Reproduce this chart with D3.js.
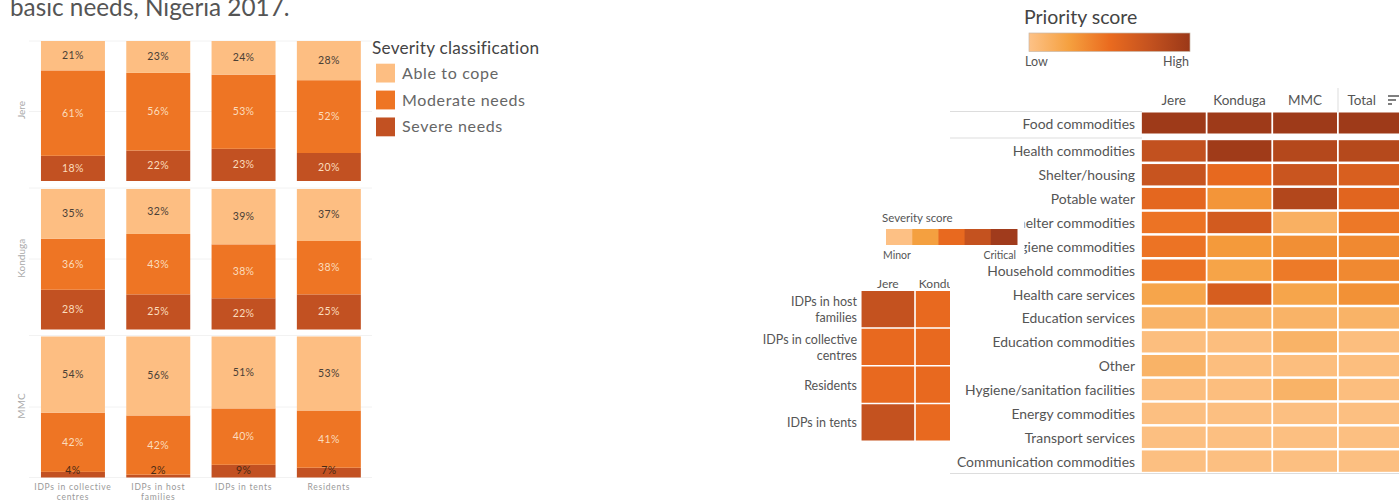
<!DOCTYPE html>
<html><head><meta charset="utf-8">
<script src="https://cdn.jsdelivr.net/npm/d3@7/dist/d3.min.js"></script>
<style>html,body{margin:0;padding:0;background:#fff;overflow:hidden}svg{display:block}text{font-family:"Lato",sans-serif}</style>
</head><body><svg id="c" width="1399" height="500"></svg>
<script>
const titleText = "basic needs, Nigeria 2017.";
const locations = ["Jere","Konduga","MMC"];
const groups = ["IDPs in collective centres","IDPs in host families","IDPs in tents","Residents"];
const classes = ["Severe needs","Moderate needs","Able to cope"];
const legendClasses = ["Able to cope","Moderate needs","Severe needs"];
const classColors = ["#c25122","#ee7524","#fdbe82"];
const severeValues = [[18,22,23,20],[28,25,22,25],[4,2,9,7]];
const moderateValues = [[61,56,53,52],[36,43,38,38],[42,42,40,41]];
const copeValues = [[21,23,24,28],[35,32,39,37],[54,56,51,53]];

const priorityColumns = ["Jere","Konduga","MMC","Total"];
const priorityTop = ["Food commodities"];
const priorityRows = ["Health commodities","Shelter/housing","Potable water","Other shelter commodities","Hygiene commodities","Household commodities","Health care services","Education services","Education commodities","Other","Hygiene/sanitation facilities","Energy commodities","Transport services","Communication commodities"];
const priorityTopScores = [[0.98,0.98,0.98,0.98]];
const priorityScores = [
 [0.76,0.97,0.85,0.84],[0.73,0.52,0.72,0.62],[0.54,0.30,0.86,0.56],[0.46,0.66,0.13,0.44],
 [0.46,0.28,0.33,0.36],[0.46,0.22,0.43,0.36],[0.21,0.63,0.21,0.32],[0.11,0.11,0.11,0.11],
 [0.03,0.03,0.11,0.03],[0.11,0.03,0.03,0.03],[0.03,0.03,0.11,0.03],[0.02,0.02,0.02,0.02],
 [0.02,0.02,0.02,0.02],[0.02,0.02,0.02,0.02]];
const priorityStops = [0,0.25,0.5,0.75,1];
const priorityStopColors = ["#fdc287","#f5a03f","#ea6b1f","#c4521f","#9b3818"];

const severityColumns = ["Jere","Konduga"];
const severityGroups = ["IDPs in host families","IDPs in collective centres","Residents","IDPs in tents"];
const severityGroupLines = [["IDPs in host","families"],["IDPs in collective","centres"],["Residents"],["IDPs in tents"]];
const severityLevels = [[3,2],[2,2],[2,2],[3,2]];
const severityColors = ["#fdc084","#f4a040","#e8691f","#c4521f","#a03b1c"];

const svg = d3.select("#c");
const T = (s,x,y,size,fill,anchor="start",g=svg)=>g.append("text").attr("x",x).attr("y",y).attr("font-size",size).attr("fill",fill).attr("text-anchor",anchor).text(s);

/* ---------- left: stacked bars ---------- */
T(titleText,10,16,24.3,"#555");
const panelY = d3.scaleOrdinal().domain(locations).range([[181,41],[329.5,189],[477.5,336.5]]);
const xBar = d3.scaleBand().domain(groups).range([30.3,371.5]).paddingInner(0.25).paddingOuter(0.125);
const stack = d3.stack().keys(classes).offset(d3.stackOffsetExpand);
const gridY = [41,111.5,188,259,335.5,407,477.5];
svg.append("g").selectAll("line").data(gridY).join("line")
  .attr("x1",29).attr("x2",372).attr("y1",d=>d).attr("y2",d=>d).attr("stroke","#f2f2f2");
locations.forEach((loc,li)=>{
  const rows = groups.map((g,i)=>({group:g,[classes[0]]:severeValues[li][i],[classes[1]]:moderateValues[li][i],[classes[2]]:copeValues[li][i]}));
  const y = d3.scaleLinear().domain([0,1]).range(panelY(loc));
  const series = stack(rows);
  const g = svg.append("g");
  series.forEach((s,si)=>{
    g.append("g").attr("fill",classColors[si]).selectAll("rect").data(s).join("rect")
      .attr("x",d=>xBar(d.data.group)).attr("width",xBar.bandwidth())
      .attr("y",d=>y(d[1])).attr("height",d=>y(d[0])-y(d[1]));
  });
  series.forEach((s,si)=>{
    g.append("g").selectAll("text").data(s).join("text")
      .attr("x",d=>xBar(d.data.group)+xBar.bandwidth()/2)
      .attr("y",d=>Math.min((y(d[0])+y(d[1]))/2,470)+3.5)
      .attr("text-anchor","middle").attr("font-size",10.5).attr("letter-spacing",0.4)
      .attr("font-family","Open Sans")
      .attr("fill",d=>{ if(si===2) return "#4a4036"; if(si===0&&d.data[classes[0]]<10) return "#4a2a14"; return "#fbdcbc"; })
      .text(d=>d.data[classes[si]]+"%");
  });
  const c = (panelY(loc)[0]+panelY(loc)[1])/2;
  T(loc,0,0,10,"#aaa","middle").attr("font-family","Open Sans").attr("transform",`translate(25,${c-1}) rotate(-90)`);
});
const catLines = [["IDPs in collective","centres"],["IDPs in host","families"],["IDPs in tents"],["Residents"]];
groups.forEach((g,i)=>catLines[i].forEach((l,j)=>{
  T(l,xBar(g)+xBar.bandwidth()/2,490+j*10,8.5,"#999","middle").attr("font-family","Open Sans").attr("letter-spacing",0.75);
}));
T("Severity classification",372,54,17.2,"#444").attr("letter-spacing",0.25);
const legY = d3.scaleBand().domain(legendClasses).range([61,139]).paddingInner(0.3).paddingOuter(0.1);
legendClasses.forEach((k)=>{
  svg.append("rect").attr("x",376).attr("y",legY(k)).attr("width",19).attr("height",legY.bandwidth()).attr("fill",classColors[classes.indexOf(k)]);
  T(k,402,legY(k)+legY.bandwidth()/2+5.5,16,"#666").attr("letter-spacing",0.65);
});

/* ---------- right: priority heat map ---------- */
const priorityColor = d3.scaleLinear().domain(priorityStops).range(priorityStopColors);
T("Priority score",1024,24,19.5,"#444");
const grad = svg.append("defs").append("linearGradient").attr("id","pg");
priorityStops.forEach((s,i)=>grad.append("stop").attr("offset",s).attr("stop-color",priorityStopColors[i]));
svg.append("rect").attr("x",1029).attr("y",33).attr("width",161).attr("height",18.5).attr("fill","url(#pg)").attr("stroke","#c9b8a8").attr("stroke-width",0.7);
T("Low",1025,66,12.5,"#555");
T("High",1189,66,12.5,"#555","end");

const xP = d3.scaleBand().domain(priorityColumns).range([1141,1403.5]).paddingInner(0.027).paddingOuter(0.013);
const yTop = d3.scaleBand().domain(priorityTop).range([112.5,133.5]);
const yP = d3.scaleBand().domain(priorityRows).range([139,473]).paddingInner(0.105).paddingOuter(0.05);
const drawRows = (rows,scores,y)=>rows.forEach((r,ri)=>{
  priorityColumns.forEach((c,ci)=>{
    svg.append("rect").attr("x",xP(c)).attr("y",y(r)).attr("width",xP.bandwidth()).attr("height",y.bandwidth()).attr("fill",priorityColor(scores[ri][ci]));
  });
  T(r,1135,y(r)+y.bandwidth()/2+5.5,13.9,"#555","end");
});
drawRows(priorityTop,priorityTopScores,yTop);
drawRows(priorityRows,priorityScores,yP);
priorityColumns.forEach((c,i)=>T(c,xP(c)+xP.bandwidth()/2-(i===3?9:0),105,13.5,"#555","middle"));
[111.5,138,473.5].forEach((v,i)=>svg.append("line").attr("x1",950).attr("x2",i===2?1399:1142).attr("y1",v).attr("y2",v).attr("stroke","#ddd"));
svg.append("line").attr("x1",1338).attr("x2",1338).attr("y1",88).attr("y2",112).attr("stroke","#ddd");
[[1388,1399,96],[1388,1396,100],[1388,1392,104]].forEach(a=>svg.append("line").attr("x1",a[0]).attr("x2",a[1]).attr("y1",a[2]).attr("y2",a[2]).attr("stroke","#555").attr("stroke-width",1.5));

/* ---------- severity overlay ---------- */
svg.append("rect").attr("x",760).attr("y",205).attr("width",264.5).attr("height",57).attr("fill","#fff");
T("Severity score",882,222,11.5,"#555");
const xS = d3.scaleBand().domain(d3.range(severityColors.length)).range([886,1017]);
svg.append("g").selectAll("rect").data(severityColors).join("rect")
  .attr("x",(d,i)=>xS(i)).attr("y",229).attr("width",xS.bandwidth()+0.5).attr("height",16).attr("fill",d=>d);
T("Minor",883,259,10.5,"#555");
T("Critical",1016,259,10.5,"#555","end");
svg.append("rect").attr("x",760).attr("y",262).attr("width",190).attr("height",190).attr("fill","#fff");
svg.append("defs").append("clipPath").attr("id","sc").append("rect").attr("x",760).attr("y",262).attr("width",190).attr("height",190);
const sev = svg.append("g").attr("clip-path","url(#sc)");
const xM = d3.scaleBand().domain(severityColumns).range([861,969]).paddingInner(0.03).paddingOuter(0.01);
const yM = d3.scaleBand().domain(severityGroups).range([291,440.5]).paddingInner(0.04);
severityGroups.forEach((g,ri)=>{
  severityColumns.forEach((c,ci)=>{
    sev.append("rect").attr("x",xM(c)).attr("y",yM(g)).attr("width",xM.bandwidth()).attr("height",yM.bandwidth()).attr("fill",severityColors[severityLevels[ri][ci]]);
  });
  const lines = severityGroupLines[ri], m = yM(g)+yM.bandwidth()/2;
  lines.forEach((l,j)=>T(l,857,m+5+(j-(lines.length-1)/2)*16.5,12.5,"#555","end",sev));
});
severityColumns.forEach(c=>T(c,xM(c)+xM.bandwidth()/2,288,12,"#555","middle",sev));
</script></body></html>
